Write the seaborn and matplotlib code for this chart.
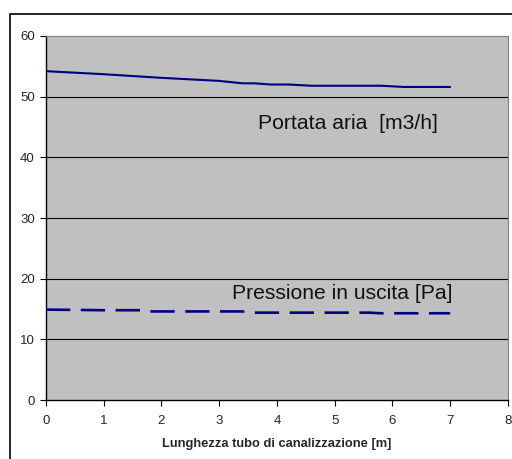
import matplotlib
matplotlib.use("Agg")
import matplotlib.pyplot as plt
import seaborn as sns
import pandas as pd
from matplotlib.patches import Rectangle

sns.set_style("white")
plt.rcParams['font.family'] = ['Liberation Sans', 'DejaVu Sans']

# data
portata_x = [0, 1, 2, 3, 3.4, 3.6, 3.9, 4.2, 4.6, 5.0, 5.5, 5.8, 6.2, 7.0]
portata_y = [54.2, 53.7, 53.1, 52.6, 52.2, 52.2, 52.0, 52.0, 51.8, 51.8, 51.8, 51.8, 51.6, 51.6]
pressione_x = [0, 1, 1.6, 1.8, 3.4, 3.6, 5.0, 5.6, 5.8, 7.0]
pressione_y = [14.9, 14.8, 14.8, 14.6, 14.6, 14.4, 14.4, 14.4, 14.3, 14.3]
x_ticks = [0, 1, 2, 3, 4, 5, 6, 7, 8]
y_ticks = [0, 10, 20, 30, 40, 50, 60]
label_portata = "Portata aria  [m3/h]"
label_pressione = "Pressione in uscita [Pa]"
x_label = "Lunghezza tubo di canalizzazione [m]"

df_p = pd.DataFrame({"x": portata_x, "y": portata_y})
df_s = pd.DataFrame({"x": pressione_x, "y": pressione_y})

fig = plt.figure(figsize=(5.12, 4.59), dpi=100)
ax = fig.add_axes([0.0898, 0.1285, 0.9022, 0.7931])
ax.set_facecolor("#C0C0C0")

# figure frame
fig.patches.append(Rectangle((10/512, -0.05), 1.2, (459-14)/459 + 0.05,
                             transform=fig.transFigure, fill=False,
                             edgecolor="black", linewidth=1.2, zorder=0))

for yv in y_ticks[1:-1]:
    ax.axhline(yv, color="black", linewidth=0.8, zorder=1)

sns.lineplot(data=df_p, x="x", y="y", ax=ax, color="#000080", linewidth=1.5,
             estimator=None, sort=False, zorder=3)
sns.lineplot(data=df_s, x="x", y="y", ax=ax, color="#000080", linewidth=1.9,
             estimator=None, sort=False, zorder=3)
ax.lines[-1].set_dashes((9.2, 4))

ax.text(3.67, 45.6, label_portata, fontsize=15.2, va="center", ha="left", color="#111111")
ax.text(3.22, 17.6, label_pressione, fontsize=15.2, va="center", ha="left", color="#111111")

ax.set_xlim(0, 8)
ax.set_ylim(0, 60)
ax.set_xticks(x_ticks)
ax.set_yticks(y_ticks)
ax.tick_params(axis="both", labelsize=9.5, length=4, width=0.8, color="black",
               direction="out", pad=4)
ax.tick_params(axis="x", pad=7)
ax.tick_params(axis="both", which="both", bottom=True, left=True)
ax.set_xlabel(x_label, fontsize=9.3, fontweight="bold", labelpad=8)
ax.set_ylabel("")

for s in ["left", "bottom"]:
    ax.spines[s].set_color("black")
    ax.spines[s].set_linewidth(1.0)
for s in ["top", "right"]:
    ax.spines[s].set_color("#808080")
    ax.spines[s].set_linewidth(0.8)

fig.savefig("out.png", dpi=100)
